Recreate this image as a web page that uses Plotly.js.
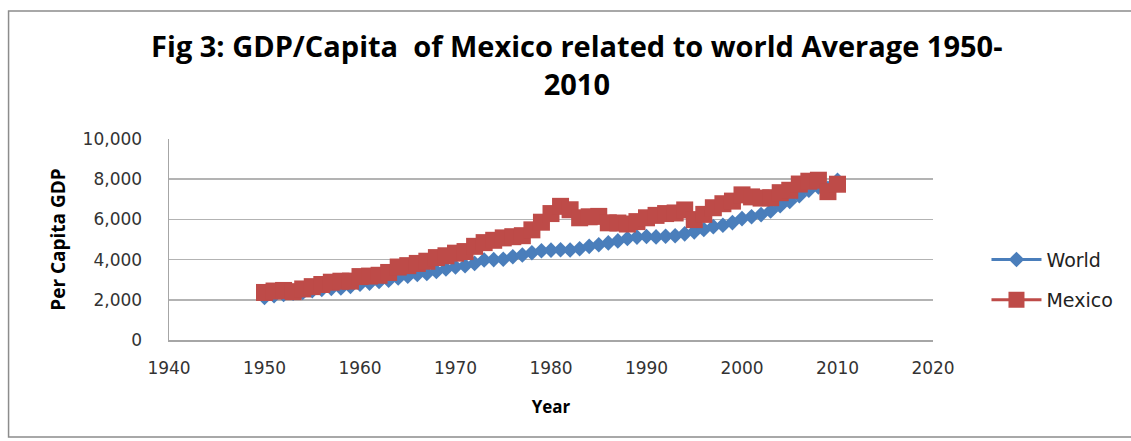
<!DOCTYPE html>
<html>
<head>
<meta charset="utf-8">
<script src="https://cdn.plot.ly/plotly-3.0.1.min.js"></script>
<style>
html,body{margin:0;padding:0;background:#fff;}
#chart{width:1131px;height:441px;}
</style>
</head>
<body>
<div id="chart"></div>
<script>
const worldYears = [1950,1951,1952,1953,1954,1955,1956,1957,1958,1959,1960,1961,1962,1963,1964,1965,1966,1967,1968,1969,1970,1971,1972,1973,1974,1975,1976,1977,1978,1979,1980,1981,1982,1983,1984,1985,1986,1987,1988,1989,1990,1991,1992,1993,1994,1995,1996,1997,1998,1999,2000,2001,2002,2003,2004,2005,2006,2007,2008,2009,2010];
const worldGDP = [2111,2200,2260,2330,2360,2450,2520,2570,2590,2670,2770,2830,2910,2970,3090,3170,3260,3310,3410,3530,3630,3700,3810,3980,4000,4020,4140,4230,4340,4440,4470,4490,4480,4540,4660,4740,4830,4930,5050,5120,5150,5130,5160,5190,5280,5380,5500,5640,5710,5840,6040,6130,6240,6420,6680,6890,7180,7450,7610,7550,7950];
const mexicoYears = [1950,1951,1952,1953,1954,1955,1956,1957,1958,1959,1960,1961,1962,1963,1964,1965,1966,1967,1968,1969,1970,1971,1972,1973,1974,1975,1976,1977,1978,1979,1980,1981,1982,1983,1984,1985,1986,1987,1988,1989,1990,1991,1992,1993,1994,1995,1996,1997,1998,1999,2000,2001,2002,2003,2004,2005,2006,2007,2008,2009,2010];
const mexicoGDP = [2365,2437,2465,2405,2540,2655,2760,2875,2925,2930,3155,3180,3220,3360,3630,3700,3810,3920,4100,4190,4320,4400,4660,4845,4960,5080,5140,5190,5480,5860,6290,6650,6480,6080,6130,6150,5830,5820,5770,5890,6080,6200,6290,6320,6470,5990,6250,6580,6780,6910,7220,7120,7060,7080,7330,7450,7760,7900,7950,7380,7750];
const xTicks = [1940,1950,1960,1970,1980,1990,2000,2010,2020];
const yTicks = [0,2000,4000,6000,8000,10000];
const yTickLabels = ['0','2,000','4,000','6,000','8,000','10,000'];

const data = [
  {x: worldYears, y: worldGDP, name: 'World', type: 'scatter', mode: 'lines+markers', legend: 'legend',
   line: {color: '#4a7ebb', width: 3}, marker: {symbol: 'diamond', size: 12, color: '#4a7ebb'}},
  {x: mexicoYears, y: mexicoGDP, name: 'Mexico', type: 'scatter', mode: 'lines+markers', legend: 'legend2',
   line: {color: '#be4b48', width: 3}, marker: {symbol: 'square', size: 17, color: '#be4b48'}}
];

const legFont = {family: 'DejaVu Sans, sans-serif', size: 19, color: '#222'};
const layout = {
  width: 1131, height: 441,
  margin: {l: 169, r: 196, t: 139, b: 101},
  paper_bgcolor: '#fff', plot_bgcolor: '#fff',
  font: {family: 'DejaVu Sans, sans-serif', color: '#000'},
  title: {
    text: '<b>Fig 3: GDP/Capita  of Mexico related to world Average 1950-<br>2010</b>',
    font: {family: 'Open Sans, sans-serif', size: 29, color: '#000'},
    x: 0.51, xref: 'container', xanchor: 'center', y: 0.87, yref: 'container', yanchor: 'top'
  },
  xaxis: {
    range: [1940, 2020], tickvals: xTicks, ticktext: xTicks.map(String),
    showgrid: false, zeroline: false, showline: true, linecolor: '#a6a6a6', linewidth: 1.5,
    ticks: '', ticklabelstandoff: 12, tickfont: {family: 'DejaVu Sans, sans-serif', size: 17, color: '#333'},
    title: {text: '<b>Year</b>', font: {family: 'Open Sans, sans-serif', size: 17, color: '#000'}, standoff: 24}
  },
  yaxis: {
    range: [0, 10000], tickvals: yTicks, ticktext: yTickLabels,
    showgrid: true, gridcolor: '#b3b3b3', gridwidth: 1.5, zeroline: false,
    showline: true, linecolor: '#a6a6a6', linewidth: 1.5, ticks: '', ticklabelstandoff: 22,
    tickfont: {family: 'DejaVu Sans, sans-serif', size: 17, color: '#333'},
    title: {text: '<b>Per Capita GDP</b>', font: {family: 'Open Sans, sans-serif', size: 19, color: '#000'}, standoff: 12}
  },
  legend: {
    x: 1.07, y: 0.40, xanchor: 'left', yanchor: 'middle',
    font: legFont, bgcolor: 'rgba(0,0,0,0)', itemwidth: 50
  },
  legend2: {
    x: 1.07, y: 0.20, xanchor: 'left', yanchor: 'middle',
    font: legFont, bgcolor: 'rgba(0,0,0,0)', itemwidth: 50
  },
  shapes: [
    {type: 'rect', xref: 'paper', yref: 'paper', x0: -0.21, x1: 1.3, y0: -0.483, y1: 1.637,
     line: {color: '#8c8c8c', width: 1.5}, fillcolor: 'rgba(0,0,0,0)', layer: 'below'}
  ],
  showlegend: true
};

Plotly.newPlot('chart', data, layout, {displayModeBar: false, staticPlot: true});
</script>
</body>
</html>
